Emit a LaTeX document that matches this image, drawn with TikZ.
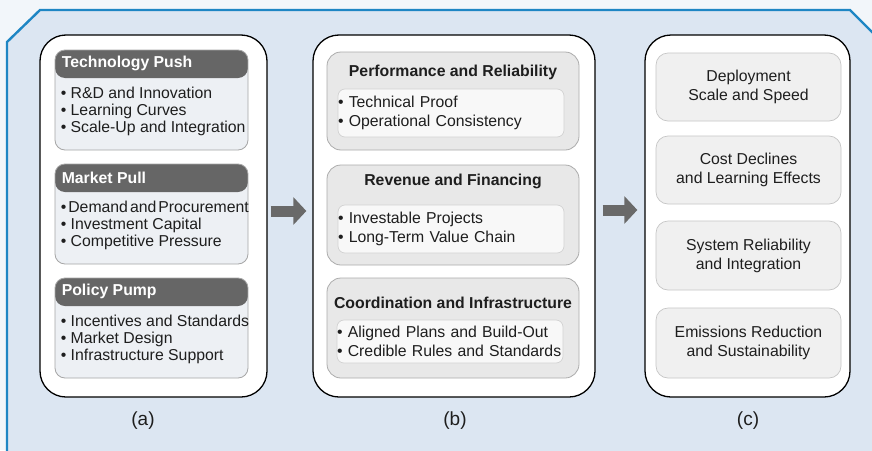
\documentclass[tikz,border=0pt]{standalone}
\usepackage{fontspec}
\setmainfont{Liberation Sans}
\usepackage{tikz}
\usetikzlibrary{arrows.meta, positioning, calc}
\definecolor{pagebg}{RGB}{242, 246, 250}
\definecolor{framefill}{RGB}{220, 230, 242}
\definecolor{frameblue}{RGB}{30, 134, 196}
\definecolor{headgray}{RGB}{102, 102, 102}
\definecolor{bodygray}{RGB}{237, 240, 244}
\definecolor{groupgray}{RGB}{232, 232, 232}
\definecolor{innerwhite}{RGB}{248, 248, 248}
\definecolor{outcomegray}{RGB}{240, 240, 240}
\definecolor{arrowgray}{RGB}{105, 105, 105}
\definecolor{textdark}{RGB}{30, 30, 30}
\tikzset{
  panel/.style={rectangle, draw=black, line width=1.3pt, fill=white, rounded corners=26pt, minimum height=362pt},
  drivebox/.style={rectangle, draw=gray!70, line width=0.8pt, fill=bodygray, rounded corners=10pt, minimum width=193pt, minimum height=100pt,
    path picture={\fill[headgray] (path picture bounding box.north west) rectangle ([yshift=-28pt]path picture bounding box.north east);}},
  drivehead/.style={inner xsep=7pt, text=white, font=\fontsize{15.8}{17}\selectfont\bfseries},
  drivelist/.style={inner xsep=6pt, align=left, text=textdark, font=\fontsize{15.8}{17}\selectfont},
  groupbox/.style={rectangle, draw=gray!65, line width=0.8pt, fill=groupgray, rounded corners=14pt, minimum width=252pt},
  grouptitle/.style={text=textdark, font=\fontsize{15.8}{19}\selectfont\bfseries},
  groupinner/.style={rectangle, draw=gray!35, line width=0.7pt, fill=innerwhite, rounded corners=7pt, text width=226pt, inner xsep=0pt, align=left, text=textdark, font=\fontsize{15.8}{19}\selectfont},
  outcomebox/.style={rectangle, draw=gray!45, line width=0.7pt, fill=outcomegray, rounded corners=12pt, minimum width=185pt, align=center, text=textdark, font=\fontsize{15.8}{19}\selectfont},
  tag/.style={text=textdark, font=\fontsize{19}{21}\selectfont},
  flowarrow/.style={draw=arrowgray, line width=11pt, -{Triangle[length=13pt, width=27pt]}}
}

\begin{document}
\begin{tikzpicture}[x=1pt, y=-1pt]
    \useasboundingbox (0,0) rectangle (872,450);
    \clip (0,0) rectangle (872,450);
    % Page and blue frame
    \fill[pagebg] (0,0) rectangle (872,450);
    \draw[frameblue, line width=2.4pt, fill=framefill] (7,470) -- (7,42) -- (40,10) -- (850,10) -- (900,60) -- (900,470) -- cycle;

    % Panels
    \node[panel, minimum width=227pt] (PanelA) at (153.5,216) {};
    \node[panel, minimum width=282pt] (PanelB) at (454,216) {};
    \node[panel, minimum width=205pt] (PanelC) at (747.5,216) {};

    % (a) Driving forces
    \node[drivebox] (TechBox) at (151.5,100) {};
    \node[drivehead, anchor=west] (TechHead) at ([yshift=-14pt]TechBox.north west) {Technology Push};
    \node[drivelist, anchor=west] (TechList) at ([yshift=-62pt]TechBox.north west) {\textbullet\ R\&D and Innovation\\ \textbullet\ Learning Curves\\ \textbullet\ Scale-Up and Integration};

    \node[drivebox] (MarketBox) at (151.5,214) {};
    \node[drivehead, anchor=west] (MarketHead) at ([yshift=-14pt]MarketBox.north west) {Market Pull};
    \node[drivelist, anchor=west] (MarketList) at ([yshift=-62pt]MarketBox.north west) {{\spaceskip=2pt\relax \textbullet\ Demand and Procurement}\\ \textbullet\ Investment Capital\\ \textbullet\ Competitive Pressure};

    \node[drivebox] (PolicyBox) at (151.5,328) {};
    \node[drivehead, anchor=west] (PolicyHead) at ([yshift=-14pt]PolicyBox.north west) {Policy Pump};
    \node[drivelist, anchor=west] (PolicyList) at ([yshift=-62pt]PolicyBox.north west) {\textbullet\ Incentives and Standards\\ \textbullet\ Market Design\\ \textbullet\ Infrastructure Support};

    % (b) Enabling conditions
    \node[groupbox, minimum height=98pt] (PerfBox) at (453,101) {};
    \node[grouptitle] (PerfTitle) at (453,72) {Performance and Reliability};
    \node[groupinner, minimum height=48pt] (PerfInner) at (451,113) {\textbullet\ Technical Proof\\ \textbullet\ Operational Consistency};

    \node[groupbox, minimum height=100pt] (RevBox) at (453,215) {};
    \node[grouptitle] (RevTitle) at (453,181) {Revenue and Financing};
    \node[groupinner, minimum height=48pt] (RevInner) at (451,229) {\textbullet\ Investable Projects\\ \textbullet\ Long-Term Value Chain};

    \node[groupbox, minimum height=100pt] (CoordBox) at (453,328) {};
    \node[grouptitle] (CoordTitle) at (453,303) {Coordination and Infrastructure};
    \node[groupinner, minimum height=43pt] (CoordInner) at (450,341.5) {\textbullet\ Aligned Plans and Build-Out\\ \textbullet\ Credible Rules and Standards};

    % (c) Outcomes
    \node[outcomebox, minimum height=68pt] (DeployBox) at (748.5,87) {Deployment\\ Scale and Speed};
    \node[outcomebox, minimum height=68pt] (CostBox) at (748.5,170) {Cost Declines\\ and Learning Effects};
    \node[outcomebox, minimum height=69pt] (SystemBox) at (748.5,255.5) {System Reliability\\ and Integration};
    \node[outcomebox, minimum height=70pt] (EmitBox) at (748.5,343) {Emissions Reduction\\ and Sustainability};

    % Flow between panels
    \draw[flowarrow] ([shift={(3pt,5pt)}]PanelA.east) -- ([shift={(-6pt,5pt)}]PanelB.west);
    \draw[flowarrow] ([shift={(7pt,6pt)}]PanelB.east) -- ([shift={(-7pt,6pt)}]PanelC.west);

    % Panel labels
    \node[tag] (TagA) at (143,421) {(a)};
    \node[tag] (TagB) at (455,421) {(b)};
    \node[tag] (TagC) at (748,421) {(c)};
\end{tikzpicture}
\end{document}
